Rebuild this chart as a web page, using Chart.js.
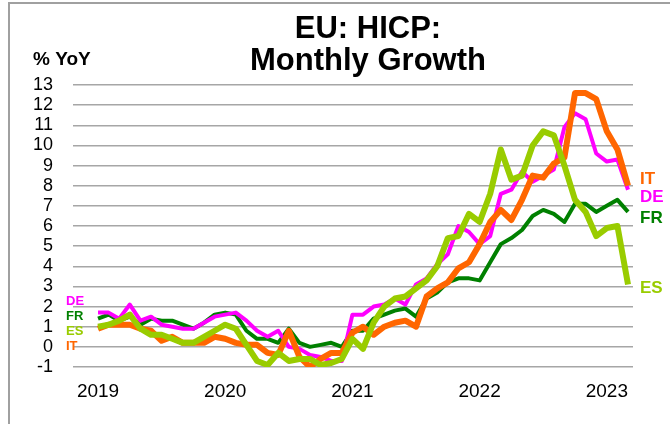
<!DOCTYPE html>
<html>
<head>
<meta charset="utf-8">
<script src="https://cdn.jsdelivr.net/npm/chart.js@4.4.1/dist/chart.umd.min.js"></script>
<style>
  html, body { margin: 0; padding: 0; background: #fff; }
  #wrap { position: relative; width: 670px; height: 424px; overflow: hidden; }
  #frame { position: absolute; left: 8px; top: 2px; width: 700px; height: 440px;
           border-top: 2px solid #a0a0a0; border-left: 2px solid #a0a0a0; }
  canvas { position: absolute; left: 0; top: 0; }
</style>
</head>
<body>
<div id="wrap">
  <div id="frame"></div>
  <canvas id="hicp" width="670" height="424"></canvas>
</div>
<script>
// HICP, % YoY, Jan 2019 .. Mar 2023 (one value per month)
const yearLabels = ['2019', '2020', '2021', '2022', '2023'];

const deValues = [
  1.7, 1.7, 1.4, 2.1, 1.3, 1.5, 1.1, 1.0, 0.9, 0.9, 1.2, 1.5,
  1.6, 1.7, 1.3, 0.8, 0.5, 0.8, 0.0, -0.1, -0.4, -0.5, -0.7, -0.7,
  1.6, 1.6, 2.0, 2.1, 2.4, 2.1, 3.1, 3.4, 4.1, 4.6, 6.0, 5.7,
  5.1, 5.5, 7.6, 7.8, 8.7, 8.2, 8.5, 8.8, 10.9, 11.6, 11.3, 9.6,
  9.2, 9.3, 7.8
];
const frValues = [
  1.4, 1.6, 1.3, 1.5, 1.1, 1.4, 1.3, 1.3, 1.1, 0.9, 1.2, 1.6,
  1.7, 1.6, 0.8, 0.4, 0.4, 0.2, 0.9, 0.2, 0.0, 0.1, 0.2, 0.0,
  0.8, 0.8, 1.4, 1.6, 1.8, 1.9, 1.5, 2.4, 2.7, 3.2, 3.4, 3.4,
  3.3, 4.2, 5.1, 5.4, 5.8, 6.5, 6.8, 6.6, 6.2, 7.1, 7.1, 6.7,
  7.0, 7.3, 6.7
];
const esValues = [
  1.0, 1.1, 1.3, 1.6, 0.9, 0.6, 0.6, 0.4, 0.2, 0.2, 0.5, 0.8,
  1.1, 0.9, 0.1, -0.7, -0.9, -0.3, -0.7, -0.6, -0.6, -0.9, -0.8, -0.6,
  0.4, -0.1, 1.2, 2.0, 2.4, 2.5, 2.9, 3.3, 4.0, 5.4, 5.5, 6.6,
  6.2, 7.6, 9.8, 8.3, 8.5, 10.0, 10.7, 10.5, 9.0, 7.3, 6.7, 5.5,
  5.9, 6.0, 3.1
];
const itValues = [
  0.9, 1.1, 1.1, 1.1, 0.9, 0.8, 0.3, 0.5, 0.2, 0.2, 0.2, 0.5,
  0.4, 0.2, 0.1, 0.1, -0.3, -0.4, 0.8, -0.5, -1.0, -0.6, -0.3, -0.3,
  0.7, 1.0, 0.6, 1.0, 1.2, 1.3, 1.0, 2.5, 2.9, 3.2, 3.9, 4.2,
  5.1, 6.2, 6.8, 6.3, 7.3, 8.5, 8.4, 9.1, 9.4, 12.6, 12.6, 12.3,
  10.7, 9.8, 8.0
];

const FONT = '"Liberation Sans", Arial, sans-serif';

function toPoints(vals) {
  return vals.map((v, i) => ({ x: i, y: v }));
}

function series(label, vals, color, width) {
  return {
    label: label,
    data: toPoints(vals),
    borderColor: color,
    backgroundColor: color,
    borderWidth: width,
    pointRadius: 0,
    tension: 0,
    borderJoinStyle: 'round',
    fill: false
  };
}

// text that sits round the plot: title, unit, series names
const textPlugin = {
  id: 'chartText',
  afterDraw(chart) {
    const ctx = chart.ctx;
    const y = chart.scales.y;
    const area = chart.chartArea;
    ctx.save();
    ctx.fillStyle = '#000';
    ctx.textAlign = 'center';
    ctx.textBaseline = 'alphabetic';
    ctx.font = 'bold 31px ' + FONT;
    ctx.fillText('EU: HICP:', 368, 38);
    ctx.fillText('Monthly Growth', 368, 70);

    ctx.textAlign = 'left';
    ctx.font = 'bold 19px ' + FONT;
    ctx.fillText('% YoY', 33, 65);

    ctx.textBaseline = 'middle';
    const leftNames = [
      ['DE', 2.27, '#ff00ff'], ['FR', 1.49, '#008000'],
      ['ES', 0.78, '#99cc00'], ['IT', 0.0, '#ff6600']
    ];
    ctx.font = 'bold 13px ' + FONT;
    leftNames.forEach(([t, v, c]) => {
      ctx.fillStyle = c;
      ctx.fillText(t, area.left - 7, y.getPixelForValue(v));
    });

    const rightNames = [
      ['IT', 8.32, '#ff6600'], ['DE', 7.43, '#ff00ff'],
      ['FR', 6.38, '#008000'], ['ES', 2.9, '#99cc00']
    ];
    ctx.font = 'bold 17px ' + FONT;
    rightNames.forEach(([t, v, c]) => {
      ctx.fillStyle = c;
      ctx.fillText(t, area.right + 7, y.getPixelForValue(v));
    });
    ctx.restore();
  }
};

new Chart(document.getElementById('hicp'), {
  type: 'line',
  data: {
    datasets: [
      series('ES', esValues, '#99cc00', 6),
      series('IT', itValues, '#ff6600', 6),
      series('DE', deValues, '#ff00ff', 4),
      series('FR', frValues, '#008000', 4)
    ]
  },
  options: {
    responsive: false,
    animation: false,
    layout: { padding: { top: 85, right: 37, left: 0, bottom: 0 } },
    plugins: {
      legend: { display: false },
      title: { display: false },
      tooltip: { enabled: false }
    },
    scales: {
      x: {
        type: 'linear',
        min: -2.36,
        max: 50.47,
        grid: { display: false },
        border: { display: false },
        afterBuildTicks: s => { s.ticks = yearLabels.map((_, i) => ({ value: i * 12 })); },
        afterFit: s => { s.height = 57; },
        ticks: {
          padding: 5,
          maxRotation: 0,
          color: '#000',
          font: { family: FONT, size: 19 },
          callback: v => yearLabels[v / 12]
        }
      },
      y: {
        min: -1,
        max: 13,
        grid: { color: '#a6a6a6', lineWidth: 1.5, drawTicks: false },
        border: { display: false },
        afterFit: s => { s.width = 73; },
        ticks: {
          stepSize: 1,
          autoSkip: false,
          padding: 20,
          color: '#000',
          font: { family: FONT, size: 18 }
        }
      }
    }
  },
  plugins: [textPlugin]
});
</script>
</body>
</html>
